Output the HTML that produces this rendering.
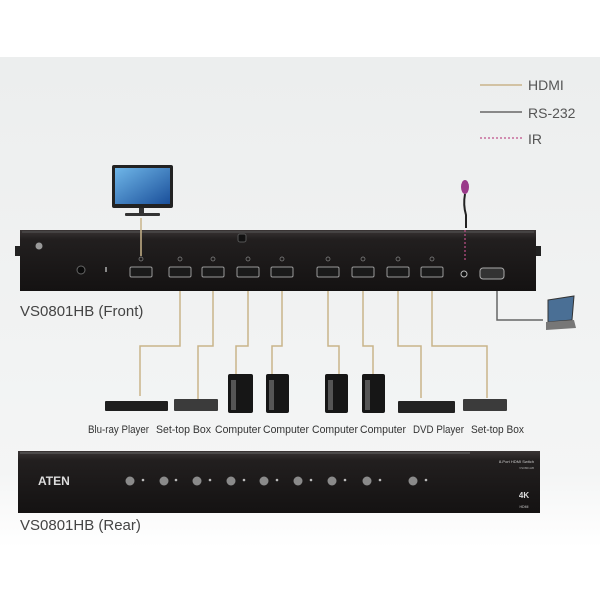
<!DOCTYPE html>
<html><head><meta charset="utf-8"><style>
html,body{margin:0;padding:0;background:#fff;}
svg{display:block;}
text{font-family:"Liberation Sans",sans-serif;}
</style></head><body>
<svg width="600" height="600" viewBox="0 0 600 600" xmlns="http://www.w3.org/2000/svg">
<defs>
<linearGradient id="bg" x1="0" y1="0" x2="0" y2="1">
<stop offset="0" stop-color="#eceeee"/><stop offset="0.85" stop-color="#f4f5f5"/><stop offset="1" stop-color="#ffffff"/>
</linearGradient>
<linearGradient id="panel" x1="0" y1="0" x2="0" y2="1">
<stop offset="0" stop-color="#3a3535"/><stop offset="0.15" stop-color="#221f1f"/><stop offset="1" stop-color="#141212"/>
</linearGradient>
<linearGradient id="scr" x1="0" y1="0" x2="1" y2="1">
<stop offset="0" stop-color="#6fb6e8"/><stop offset="1" stop-color="#1a4f9a"/>
</linearGradient>
</defs>
<rect x="0" y="57" width="600" height="490" fill="url(#bg)"/>

<!-- legend -->
<line x1="480" y1="85" x2="522" y2="85" stroke="#c9b48a" stroke-width="1.5"/>
<text x="528" y="90" font-size="14" fill="#555">HDMI</text>
<line x1="480" y1="112" x2="522" y2="112" stroke="#666" stroke-width="1.5"/>
<text x="528" y="118" font-size="14" fill="#555">RS-232</text>
<line x1="480" y1="138" x2="522" y2="138" stroke="#c0508a" stroke-width="1.2" stroke-dasharray="2,2"/>
<text x="528" y="144" font-size="14" fill="#555">IR</text>

<!-- TV -->
<rect x="112" y="165" width="61" height="43" rx="2" fill="#222"/>
<rect x="115" y="168" width="55" height="36" fill="url(#scr)"/>
<rect x="139" y="208" width="5" height="6" fill="#333"/>
<rect x="125" y="213" width="35" height="3" rx="1" fill="#333"/>

<!-- IR -->
<ellipse cx="465" cy="187" rx="4" ry="7" fill="#9a3a8a"/>
<path d="M465 194 Q463 205 466 215 L466 228" stroke="#222" stroke-width="2" fill="none"/>

<!-- HDMI cables -->
<g stroke="#c9b48a" stroke-width="1.5" fill="none">
<polyline points="180,280 180,346 140,346 140,396"/>
<polyline points="213,280 213,346 198,346 198,400"/>
<polyline points="248,280 248,346 236,346 236,376"/>
<polyline points="282,280 282,346 272,346 272,376"/>
<polyline points="328,280 328,346 339,346 339,376"/>
<polyline points="363,280 363,346 373,346 373,376"/>
<polyline points="398,280 398,346 421,346 421,398"/>
<polyline points="432,280 432,346 487,346 487,398"/>
</g>
<polyline points="497,280 497,320 543,320" stroke="#666" stroke-width="1.5" fill="none"/>

<!-- tablet -->
<path d="M548 300 L574 296 L572 320 L548 322 Z" fill="#4a6f95" stroke="#333"/>
<path d="M546 322 L574 320 L576 328 L546 330 Z" fill="#777"/>

<!-- front panel -->
<rect x="15" y="246" width="6" height="10" fill="#222"/>
<rect x="535" y="246" width="6" height="10" fill="#222"/>
<rect x="20" y="230" width="516" height="61" fill="url(#panel)"/>
<line x1="22" y1="232" x2="534" y2="232" stroke="#555" stroke-width="1"/>
<line x1="141" y1="218" x2="141" y2="256" stroke="#c9b48a" stroke-width="1.5"/>
<line x1="465" y1="230" x2="465" y2="262" stroke="#c0508a" stroke-width="1.2" stroke-dasharray="2,2"/>
<rect x="238" y="234" width="8" height="8" rx="2" fill="#111" stroke="#555"/>
<circle cx="39" cy="246" r="3.5" fill="#999"/>
<circle cx="81" cy="270" r="4" fill="#0a0a0a" stroke="#666"/>
<rect x="105" y="267" width="2" height="5" fill="#888"/>
<g fill="#1a1a1a" stroke="#999" stroke-width="1">
<rect x="130" y="267" width="22" height="10" rx="1.5"/>
<rect x="169" y="267" width="22" height="10" rx="1.5"/>
<rect x="202" y="267" width="22" height="10" rx="1.5"/>
<rect x="237" y="267" width="22" height="10" rx="1.5"/>
<rect x="271" y="267" width="22" height="10" rx="1.5"/>
<rect x="317" y="267" width="22" height="10" rx="1.5"/>
<rect x="352" y="267" width="22" height="10" rx="1.5"/>
<rect x="387" y="267" width="22" height="10" rx="1.5"/>
<rect x="421" y="267" width="22" height="10" rx="1.5"/>
</g>
<g fill="none" stroke="#888" stroke-width="0.7">
<circle cx="141" cy="259" r="2"/><circle cx="180" cy="259" r="2"/><circle cx="213" cy="259" r="2"/>
<circle cx="248" cy="259" r="2"/><circle cx="282" cy="259" r="2"/><circle cx="328" cy="259" r="2"/>
<circle cx="363" cy="259" r="2"/><circle cx="398" cy="259" r="2"/><circle cx="432" cy="259" r="2"/>
</g>
<circle cx="464" cy="274" r="3" fill="#111" stroke="#bbb"/>
<rect x="480" y="268" width="24" height="11" rx="3" fill="#333" stroke="#aaa"/>
<text x="20" y="316" font-size="15" fill="#444">VS0801HB (Front)</text>

<!-- devices -->
<rect x="105" y="401" width="63" height="10" rx="1" fill="#1e1e1e"/>
<rect x="174" y="399" width="44" height="12" rx="1" fill="#3b3b3b"/>
<g fill="#161616">
<rect x="228" y="374" width="25" height="39" rx="2"/>
<rect x="266" y="374" width="23" height="39" rx="2"/>
<rect x="325" y="374" width="23" height="39" rx="2"/>
<rect x="362" y="374" width="23" height="39" rx="2"/>
</g>
<g fill="#555"><rect x="231" y="380" width="5" height="30"/><rect x="269" y="380" width="5" height="30"/><rect x="328" y="380" width="5" height="30"/><rect x="365" y="380" width="5" height="30"/></g>
<rect x="398" y="401" width="57" height="12" rx="1" fill="#222"/>
<rect x="463" y="399" width="44" height="12" rx="1" fill="#3b3b3b"/>
<g font-size="11" fill="#333">
<text x="88" y="433" textLength="61" lengthAdjust="spacingAndGlyphs">Blu-ray Player</text>
<text x="156" y="433" textLength="55" lengthAdjust="spacingAndGlyphs">Set-top Box</text>
<text x="215" y="433" textLength="46" lengthAdjust="spacingAndGlyphs">Computer</text>
<text x="263" y="433" textLength="46" lengthAdjust="spacingAndGlyphs">Computer</text>
<text x="312" y="433" textLength="46" lengthAdjust="spacingAndGlyphs">Computer</text>
<text x="360" y="433" textLength="46" lengthAdjust="spacingAndGlyphs">Computer</text>
<text x="413" y="433" textLength="51" lengthAdjust="spacingAndGlyphs">DVD Player</text>
<text x="471" y="433" textLength="53" lengthAdjust="spacingAndGlyphs">Set-top Box</text>
</g>

<!-- rear panel -->
<rect x="18" y="451" width="522" height="62" fill="url(#panel)"/>
<line x1="20" y1="453" x2="470" y2="453" stroke="#666" stroke-width="1"/>
<text x="38" y="485" font-size="12" font-weight="bold" fill="#ddd">ATEN</text>
<g fill="#8a8a8a">
<circle cx="130" cy="481" r="4.5"/><circle cx="164" cy="481" r="4.5"/><circle cx="197" cy="481" r="4.5"/>
<circle cx="231" cy="481" r="4.5"/><circle cx="264" cy="481" r="4.5"/><circle cx="298" cy="481" r="4.5"/>
<circle cx="332" cy="481" r="4.5"/><circle cx="367" cy="481" r="4.5"/><circle cx="413" cy="481" r="4.5"/>
</g>
<g fill="#bbb">
<circle cx="143" cy="480" r="1.3"/><circle cx="176" cy="480" r="1.3"/><circle cx="210" cy="480" r="1.3"/>
<circle cx="244" cy="480" r="1.3"/><circle cx="277" cy="480" r="1.3"/><circle cx="311" cy="480" r="1.3"/>
<circle cx="345" cy="480" r="1.3"/><circle cx="380" cy="480" r="1.3"/><circle cx="426" cy="480" r="1.3"/>
</g>
<text x="534" y="463" font-size="4" fill="#ccc" text-anchor="end">8-Port HDMI Switch</text>
<text x="534" y="469" font-size="3" fill="#aaa" text-anchor="end">VS0801HB</text>
<text x="524" y="498" font-size="8" font-weight="bold" fill="#ddd" text-anchor="middle">4K</text>
<text x="524" y="508" font-size="3.5" fill="#ccc" text-anchor="middle">HDMI</text>
<text x="20" y="530" font-size="15" fill="#444">VS0801HB (Rear)</text>
</svg>
</body></html>
